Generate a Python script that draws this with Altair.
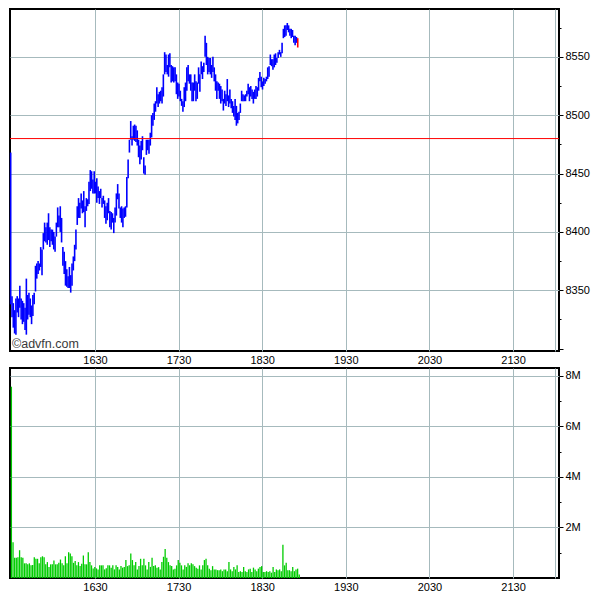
import altair as alt
import numpy as np
import pandas as pd

# --- price bars (1-minute high/low) ---
highs = [
    8468, 8345, 8339, 8333, 8343, 8345, 8343, 8354, 8343, 8341,
    8339, 8335, 8360, 8346, 8348, 8343, 8337, 8346, 8348, 8371,
    8373, 8375, 8373, 8387, 8385, 8399, 8408, 8404, 8408, 8416,
    8404, 8402, 8402, 8400, 8396, 8408, 8421, 8414, 8422, 8412,
    8387, 8383, 8375, 8368, 8362, 8370, 8363, 8373, 8379, 8389,
    8402, 8422, 8429, 8425, 8433, 8427, 8435, 8422, 8429, 8428,
    8443, 8453, 8452, 8445, 8452, 8443, 8446, 8439, 8435, 8437,
    8429, 8431, 8427, 8422, 8425, 8429, 8418, 8417, 8416, 8412,
    8421, 8433, 8441, 8433, 8421, 8422, 8420, 8421, 8422, 8447,
    8462, 8479, 8495, 8482, 8491, 8492, 8491, 8487, 8479, 8474,
    8478, 8482, 8464, 8457, 8479, 8479, 8479, 8485, 8500, 8502,
    8510, 8512, 8524, 8518, 8520, 8521, 8524, 8535, 8554, 8552,
    8543, 8552, 8553, 8543, 8542, 8541, 8541, 8535, 8528, 8527,
    8521, 8514, 8512, 8524, 8528, 8541, 8543, 8535, 8535, 8528,
    8528, 8535, 8529, 8528, 8541, 8535, 8546, 8542, 8545, 8568,
    8562, 8550, 8549, 8549, 8543, 8550, 8541, 8535, 8529, 8528,
    8527, 8525, 8522, 8514, 8521, 8518, 8531, 8517, 8522, 8514,
    8512, 8508, 8514, 8508, 8502, 8503, 8510, 8521, 8518, 8517,
    8518, 8521, 8527, 8524, 8525, 8522, 8520, 8522, 8525, 8524,
    8532, 8537, 8533, 8529, 8532, 8531, 8533, 8541, 8542, 8552,
    8548, 8548, 8552, 8553, 8549, 8554, 8556, 8554, 8562, 8574,
    8577, 8577, 8579, 8577, 8574, 8574, 8573, 8568, 8568, 8567,
    8566,
]
lows = [
    8338, 8327, 8318, 8313, 8312, 8331, 8327, 8335, 8325, 8321,
    8323, 8316, 8312, 8325, 8329, 8327, 8321, 8328, 8338, 8349,
    8360, 8364, 8367, 8370, 8363, 8385, 8392, 8391, 8389, 8393,
    8387, 8392, 8389, 8385, 8383, 8396, 8404, 8404, 8400, 8391,
    8371, 8364, 8354, 8353, 8352, 8352, 8348, 8354, 8367, 8375,
    8385, 8406, 8412, 8412, 8420, 8416, 8417, 8404, 8418, 8422,
    8424, 8435, 8437, 8433, 8433, 8433, 8425, 8429, 8424, 8429,
    8421, 8424, 8412, 8407, 8410, 8416, 8404, 8402, 8408, 8399,
    8408, 8414, 8428, 8420, 8412, 8408, 8404, 8412, 8413, 8421,
    8446, 8468, 8479, 8474, 8479, 8478, 8477, 8474, 8464, 8458,
    8462, 8470, 8450, 8449, 8466, 8470, 8467, 8474, 8481, 8491,
    8496, 8503, 8510, 8507, 8510, 8512, 8510, 8516, 8535, 8537,
    8535, 8533, 8541, 8528, 8529, 8528, 8529, 8518, 8514, 8516,
    8512, 8508, 8503, 8507, 8512, 8521, 8529, 8527, 8521, 8512,
    8512, 8521, 8512, 8514, 8527, 8520, 8535, 8531, 8537, 8550,
    8543, 8535, 8537, 8535, 8532, 8537, 8529, 8521, 8514, 8521,
    8514, 8510, 8512, 8504, 8510, 8508, 8512, 8507, 8510, 8506,
    8502, 8499, 8496, 8491, 8493, 8496, 8502, 8512, 8512, 8512,
    8512, 8516, 8518, 8512, 8516, 8514, 8510, 8514, 8514, 8516,
    8521, 8529, 8524, 8522, 8525, 8527, 8529, 8531, 8533, 8543,
    8542, 8539, 8541, 8543, 8545, 8549, 8552, 8550, 8553, 8566,
    8567, 8568, 8573, 8571, 8568, 8566, 8567, 8562, 8560, 8562,
    8558,
]

# --- volume (millions) ---
volumes_m = [
    7.57, 1.41, 0.80, 0.80, 0.82, 1.10, 0.82, 0.80, 0.58, 0.58,
    0.54, 0.58, 0.50, 0.51, 0.82, 0.76, 0.76, 0.58, 0.82, 0.86,
    0.82, 0.54, 0.63, 0.44, 0.54, 0.54, 0.69, 0.54, 0.54, 0.60,
    0.73, 0.58, 0.50, 0.86, 0.58, 1.02, 0.97, 0.86, 0.60, 0.67,
    0.50, 0.63, 0.47, 0.56, 0.89, 0.54, 0.54, 1.02, 0.63, 0.50,
    0.38, 0.44, 0.38, 0.34, 0.50, 0.50, 0.50, 0.34, 0.39, 0.50,
    0.50, 0.41, 0.50, 0.34, 0.50, 0.44, 0.34, 0.47, 0.41, 0.44,
    0.71, 0.47, 0.50, 0.97, 0.71, 0.50, 0.63, 0.34, 0.47, 0.76,
    0.50, 0.76, 0.50, 0.34, 0.63, 0.44, 0.80, 0.47, 0.50, 0.41,
    0.43, 0.34, 0.63, 0.84, 1.15, 0.80, 0.63, 0.50, 0.47, 0.34,
    0.37, 0.50, 0.71, 0.60, 0.50, 0.34, 0.50, 0.44, 0.58, 0.50,
    0.58, 0.54, 0.47, 0.41, 0.37, 0.50, 0.34, 0.50, 0.71, 0.76,
    0.50, 0.37, 0.31, 0.47, 0.34, 0.34, 0.31, 0.31, 0.34, 0.27,
    0.34, 0.34, 0.27, 0.63, 0.34, 0.27, 0.44, 0.34, 0.50, 0.24,
    0.27, 0.24, 0.44, 0.27, 0.24, 0.34, 0.37, 0.24, 0.41, 0.34,
    0.27, 0.37, 0.44, 0.47, 0.24, 0.24, 0.27, 0.24, 0.27, 0.21,
    0.44, 0.24, 0.34, 0.31, 0.34, 0.27, 1.32, 0.50, 0.60, 0.31,
    0.31, 0.27, 0.44, 0.27, 0.34, 0.37, 0.14,
]

reference_level = [8480]
watermark = ["©advfn.com"]

# session minutes (minutes after midnight): 15:30 -> 18:56
price_start, price_end = 929.5, 1135.5
vol_start, vol_end = 930.0, 1136.6

x_grid_times = [990, 1050, 1110, 1170, 1230, 1290, 1320]
price_ticks = list(range(8300, 8576, 25))
vol_ticks = [1, 2, 3, 4, 5, 6, 7, 8]

n = len(highs)
price_df = pd.DataFrame({
    "t": np.linspace(price_start, price_end, n),
    "high": highs,
    "low": lows,
    "kind": ["bar"] * (n - 1) + ["last"],
})
vol_df = pd.DataFrame({
    "t": np.linspace(vol_start, vol_end, len(volumes_m)),
    "vol": volumes_m,
})
ref_df = pd.DataFrame({"level": reference_level})
wm_df = pd.DataFrame({"txt": watermark})

W, H1, H2 = 549, 342, 210
FONT = "Liberation Sans"
GRID = "#a6babd"

x_scale = alt.Scale(domain=[929, 1323], nice=False, zero=False)
x_label_expr = ("datum.value >= 1320 ? '' : "
                "format(floor(datum.value / 60), 'd') + format(datum.value % 60, '02d')")


def x_axis():
    return alt.Axis(values=x_grid_times, labelExpr=x_label_expr, ticks=False,
                    domain=False, grid=True, gridColor=GRID, gridWidth=1,
                    labelPadding=3, title=None)


def y_axis_price():
    return alt.Axis(
        orient="right", values=price_ticks, format="d",
        labelExpr="(datum.value % 50 == 0 && datum.value >= 8350) ? datum.label : ''",
        tickSize={"condition": {"test": "datum.value % 50 == 0", "value": 4}, "value": 2},
        gridOpacity={"condition": {"test": "datum.value % 50 == 0 && datum.value >= 8350",
                                   "value": 1}, "value": 0},
        grid=True, gridColor=GRID, domain=False, tickColor="black",
        labelPadding=2, title=None,
    )


y_axis_vol = alt.Axis(
    orient="right", values=vol_ticks,
    labelExpr="datum.value % 2 == 0 ? datum.value + 'M' : ''",
    tickSize={"condition": {"test": "datum.value % 2 == 0", "value": 4}, "value": 2},
    gridOpacity={"condition": {"test": "datum.value % 2 == 0", "value": 1}, "value": 0},
    grid=True, gridColor=GRID, domain=False, tickColor="black",
    labelPadding=2, title=None,
)

price_scale = alt.Scale(domain=[8298, 8591], nice=False, zero=False)

bars = alt.Chart(price_df).mark_rule(strokeWidth=1.6).encode(
    x=alt.X("t:Q", scale=x_scale, axis=x_axis()),
    y=alt.Y("low:Q", scale=price_scale, axis=y_axis_price()),
    y2="high:Q",
    color=alt.Color("kind:N", scale=alt.Scale(domain=["bar", "last"],
                                               range=["#0000ff", "#ff0000"]),
                    legend=None),
)

ref_line = alt.Chart(ref_df).mark_rule(color="#ff0000", strokeWidth=1).encode(
    y=alt.Y("level:Q", scale=price_scale, axis=y_axis_price()),
)

wm = alt.Chart(wm_df).mark_text(align="left", baseline="bottom", fontSize=12.5,
                                font=FONT, color="#3a3a3a").encode(
    x=alt.value(2), y=alt.value(H1), text="txt:N",
)

top = alt.layer(bars, ref_line, wm).properties(width=W, height=H1)

vol_scale = alt.Scale(domain=[0, 8.31], nice=False, zero=True)
bottom = alt.Chart(vol_df).mark_rule(strokeWidth=1.3, color="#00cc00").encode(
    x=alt.X("t:Q", scale=x_scale, axis=x_axis()),
    y=alt.Y("vol:Q", scale=vol_scale, axis=y_axis_vol),
    y2=alt.datum(0),
).properties(width=W, height=H2)

chart = alt.vconcat(top, bottom, spacing=1).properties(
    padding=0, background="white"
).configure_view(
    stroke="black", strokeWidth=2
).configure_axis(
    labelFont=FONT, labelFontSize=11, labelColor="black"
)

chart.save("out.html", embed_options={"renderer": "svg", "actions": False})
